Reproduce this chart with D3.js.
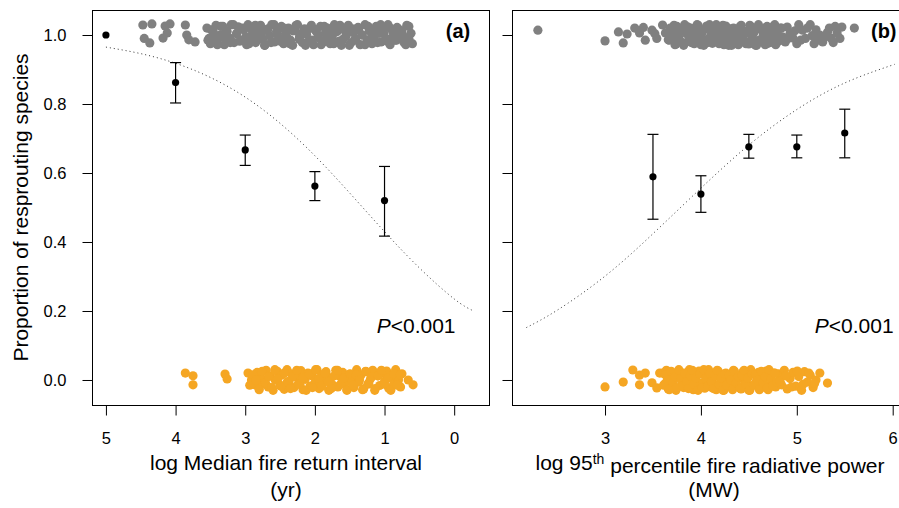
<!DOCTYPE html>
<html>
<head>
<meta charset="utf-8">
<script src="https://cdn.jsdelivr.net/npm/d3@7"></script>
<style>
  body { margin: 0; background: #fff; }
  text { font-family: "Liberation Sans", Arial, Helvetica, sans-serif; fill: #000; }
</style>
</head>
<body>
<script>
// ---- data ----
// panel (a): log median fire return interval
var meanA_x = [5, 4, 3, 2, 1];
var meanA   = [1.0, 0.862, 0.667, 0.562, 0.52];
var lowA    = [null, 0.803, 0.622, 0.52, 0.417];
var highA   = [null, 0.92, 0.71, 0.604, 0.619];

var curveA_x = [5, 4.5, 4, 3.5, 3, 2.5, 2, 1.5, 1, 0.5, 0, -0.28];
var curveA_y = [0.965, 0.946, 0.918, 0.877, 0.82, 0.744, 0.65, 0.542, 0.43, 0.325, 0.235, 0.2];

// resprouters (y ~ 1) and non-resprouters (y ~ 0), jittered
var greyA = [
  [4.47,1.029],[4.34,1.032],[4.45,0.99],[4.37,0.977],[4.15,1.026],[4.08,1.032],[4.12,1.006],[4.18,0.991],
  [3.86,1.029],[3.84,1.0],[3.81,0.986],[3.72,0.98],
  [3.55,1.02],[3.52,0.99],[3.50,0.975],[3.46,1.01],[3.42,1.028],[3.40,0.985],[3.36,1.0],[3.32,1.025],
  [3.30,0.972],[3.27,1.012],[3.22,0.99],[3.20,1.03],[3.16,0.978],[3.12,1.005],[3.10,1.024],[3.06,0.985],
  [3.02,1.015],[2.98,0.972],[2.96,1.03],[2.92,0.995],[2.88,1.018],[2.85,0.978],[2.82,1.005],[2.78,1.028],
  [2.75,0.988],[2.72,0.97],[2.68,1.015],[2.65,0.998],[2.62,1.03],[2.58,0.98],[2.55,1.01],[2.52,0.992],
  [2.48,1.025],[2.45,0.975],[2.42,1.005],[2.38,1.02],[2.35,0.985],[2.32,0.97],[2.28,1.012],[2.25,1.03],
  [2.22,0.995],[2.18,0.978],[2.15,1.018],[2.12,1.002],[2.08,0.985],[2.05,1.028],[2.02,0.972],[1.98,1.01],
  [1.95,0.992],[1.92,1.025],[1.88,0.98],[1.85,1.005],[1.82,1.02],[1.78,0.975],[1.75,0.995],[1.72,1.03],
  [1.68,1.01],[1.65,0.982],[1.62,0.97],[1.58,1.015],[1.55,0.998],[1.52,1.028],[1.48,0.978],[1.45,1.008],
  [1.42,0.99],[1.38,1.022],[1.35,0.972],[1.32,1.0],[1.28,1.03],[1.25,0.985],[1.22,1.012],[1.18,0.975],
  [1.15,0.995],[1.12,1.025],[1.08,1.005],[1.05,0.98],[1.02,1.018],[0.98,0.99],[0.95,1.03],[0.92,0.972],
  [0.88,1.008],[0.85,0.985],[0.82,1.022],[0.78,0.995],[0.75,1.012],[0.72,0.978],[0.68,1.028],[0.65,0.99],
  [0.62,1.005],[0.60,0.975],
  [3.535,0.985],[3.49,1.015],[3.445,1.0],[3.40,0.972],[3.35,1.025],[3.305,0.992],[3.26,1.01],[3.215,0.978],
  [3.17,1.03],[3.125,1.004],[3.08,0.982],[3.035,1.02],[2.99,0.995],[2.945,0.975],[2.90,1.012],[2.855,1.028],
  [2.81,0.988],[2.765,1.006],[2.72,0.97],[2.675,1.018],
  [2.63,0.978],[2.585,1.03],[2.54,1.004],[2.495,0.982],[2.45,1.02],[2.405,0.995],[2.36,0.975],[2.315,1.012],
  [2.27,1.028],[2.225,0.988],[2.18,1.006],[2.135,0.97],[2.09,1.018],[2.045,0.985],[2.00,1.015],[1.955,1.0],
  [1.91,0.972],[1.865,1.025],[1.82,0.992],[1.775,1.01],
  [1.73,0.975],[1.685,1.012],[1.64,1.028],[1.595,0.988],[1.55,1.006],[1.505,0.97],[1.46,1.018],[1.415,0.985],
  [1.37,1.015],[1.325,1.0],[1.28,0.972],[1.235,1.025],[1.19,0.992],[1.145,1.01],[1.10,0.978],[1.055,1.03],
  [1.01,1.004],[0.965,0.982],[0.92,1.02],[0.875,0.995],
  [0.83,0.985],[0.785,1.015],[0.74,1.0],[0.695,0.972],[0.65,1.025]
];
var orangeA = [
  [3.86,0.02],[3.75,0.012],[3.75,-0.014],[3.29,0.017],[3.26,0.003],
  [2.96,0.02],[2.91,0.0],[2.86,-0.014],
  [2.83,0.022],[2.80,-0.025],[2.77,0.005],[2.74,-0.01],[2.70,0.028],[2.67,-0.02],[2.64,0.012],[2.60,-0.03],
  [2.57,0.0],[2.54,0.025],[2.50,-0.015],[2.47,0.015],[2.44,-0.027],[2.40,0.03],[2.37,-0.005],[2.34,0.018],
  [2.30,-0.022],[2.27,0.008],[2.24,-0.012],[2.20,0.027],[2.17,-0.028],[2.14,0.002],[2.10,0.02],[2.07,-0.018],
  [2.04,0.012],[2.00,-0.008],[1.97,0.03],[1.94,-0.025],[1.90,0.015],[1.87,-0.002],[1.84,0.024],[1.80,-0.03],
  [1.77,0.006],[1.74,-0.015],[1.70,0.028],[1.67,-0.02],[1.64,0.01],[1.60,0.022],[1.57,-0.01],[1.54,-0.028],
  [1.50,0.016],[1.47,0.0],[1.44,-0.022],[1.40,0.03],[1.37,-0.006],[1.34,0.014],[1.30,-0.026],[1.27,0.024],
  [1.24,-0.012],[1.20,0.004],[1.17,0.028],[1.14,-0.03],[1.10,0.012],[1.07,-0.016],[1.04,0.02],[1.00,-0.004],
  [0.97,0.026],[0.94,-0.024],[0.90,0.008],[0.87,-0.012],[0.84,0.03],[0.80,0.0],[0.77,-0.02],[0.75,0.018],
  [0.66,0.0],[0.59,-0.014],
  [2.935,-0.015],[2.89,0.015],[2.845,0.0],[2.80,-0.028],[2.755,0.025],[2.71,-0.008],[2.665,0.01],[2.62,-0.022],
  [2.575,0.03],[2.53,0.004],[2.485,-0.018],[2.44,0.02],[2.395,-0.005],[2.35,-0.025],[2.305,0.012],[2.26,0.028],
  [2.215,-0.012],[2.17,0.006],[2.125,-0.03],[2.08,0.018],
  [2.035,-0.022],[1.99,0.03],[1.945,0.004],[1.90,-0.018],[1.855,0.02],[1.81,-0.005],[1.765,-0.025],[1.72,0.012],
  [1.675,0.028],[1.63,-0.012],[1.585,0.006],[1.54,-0.03],[1.495,0.018],[1.45,-0.015],[1.405,0.015],[1.36,0.0],
  [1.315,-0.028],[1.27,0.025],[1.225,-0.008],[1.18,0.01],
  [1.135,-0.025],[1.09,0.012],[1.045,0.028],[1.00,-0.012],[0.955,0.006],[0.91,-0.03],[0.865,0.018],[0.82,-0.015],
  [0.775,0.015]
];

// panel (b): log 95th percentile fire radiative power
var meanB_x = [3.5, 4, 4.5, 5, 5.5];
var meanB   = [0.589, 0.539, 0.676, 0.676, 0.716];
var lowB    = [0.466, 0.486, 0.643, 0.644, 0.644];
var highB   = [0.712, 0.592, 0.712, 0.71, 0.785];

var curveB_x = [2.18, 2.5, 3, 3.5, 4, 4.5, 5, 5.5, 6.02];
var curveB_y = [0.152, 0.202, 0.301, 0.424, 0.556, 0.681, 0.784, 0.861, 0.915];

var greyB = [
  [2.30,1.014],[3.00,0.983],[3.14,1.009],[3.19,0.977],[3.23,1.003],[3.31,1.02],[3.36,1.006],[3.40,1.022],
  [3.42,0.985],[3.49,1.014],[3.52,1.004],[3.54,0.99],[3.60,1.029],[3.63,1.006],[3.66,0.986],
  [3.68,1.02],[3.70,0.988],[3.72,1.028],[3.74,0.974],[3.76,1.004],[3.78,0.982],[3.80,1.014],[3.82,0.97],
  [3.84,1.01],[3.86,1.024],[3.88,0.996],[3.90,0.978],[3.92,1.018],[3.94,0.992],[3.96,1.03],[3.98,1.0],
  [4.00,0.972],[4.02,1.012],[4.04,0.984],[4.06,1.026],
  [4.08,0.99],[4.10,1.022],[4.12,0.976],[4.14,1.008],[4.16,1.03],[4.18,0.98],[4.20,1.0],[4.22,1.016],
  [4.24,0.972],[4.26,1.026],[4.28,0.986],[4.30,1.006],[4.32,0.97],[4.34,1.02],[4.36,0.994],[4.38,1.012],
  [4.40,0.978],[4.42,1.028],[4.44,1.002],[4.46,0.982],
  [4.48,1.006],[4.50,0.974],[4.52,1.024],[4.54,0.99],[4.56,1.012],[4.58,0.97],[4.60,1.03],[4.62,0.984],
  [4.64,1.016],[4.66,0.998],[4.68,1.022],[4.70,0.976],[4.72,1.008],[4.74,0.988],[4.76,1.026],[4.78,0.972],
  [4.80,1.014],[4.82,0.994],[4.84,1.02],
  [4.88,0.98],[4.90,1.023],[4.93,1.005],[4.96,0.991],[5.00,0.975],[5.02,1.03],[5.06,1.014],[5.09,0.99],
  [5.14,1.03],[5.18,0.975],[5.20,1.015],[5.24,1.0],[5.27,0.98],[5.30,0.995],[5.34,1.02],[5.38,0.978],
  [5.42,1.006],[5.45,0.99],[5.47,1.023],[5.60,1.02],
  [3.67,0.985],[3.69,1.015],[3.71,1.0],[3.73,0.972],[3.75,1.025],[3.77,0.992],[3.79,1.01],[3.81,0.978],
  [3.83,1.03],[3.85,1.004],[3.87,0.982],[3.89,1.02],[3.91,0.995],[3.93,0.975],[3.95,1.012],[3.97,1.028],
  [3.99,0.988],[4.01,1.006],[4.03,0.97],[4.05,1.018],
  [4.07,0.978],[4.09,1.03],[4.11,1.004],[4.13,0.982],[4.15,1.02],[4.17,0.995],[4.19,0.975],[4.21,1.012],
  [4.23,1.028],[4.25,0.988],[4.27,1.006],[4.29,0.97],[4.31,1.018],[4.33,0.985],[4.35,1.015],[4.37,1.0],
  [4.39,0.972],[4.41,1.025],[4.43,0.992],[4.45,1.01],
  [4.47,0.975],[4.49,1.012],[4.51,1.028],[4.53,0.988],[4.55,1.006],[4.57,0.97],[4.59,1.018],[4.61,0.985],
  [4.63,1.015],[4.65,1.0],[4.67,0.972],[4.69,1.025],[4.71,0.992],[4.73,1.01],[4.75,0.978],[4.77,1.03],
  [4.79,1.004],[4.81,0.982],[4.83,1.02],[4.85,0.995],
  [4.91,0.99],[4.98,1.012],[5.04,0.985],[5.11,1.02],[5.16,0.998],[5.22,0.985],[5.32,1.008],[5.36,0.99],
  [5.40,1.025]
];
var orangeB = [
  [3.00,-0.02],[3.19,-0.006],[3.29,0.029],[3.36,0.014],[3.36,-0.014],[3.42,0.02],[3.49,-0.008],[3.54,-0.023],[3.57,0.02],
  [3.60,0.02],[3.62,-0.012],[3.64,0.028],[3.66,-0.026],[3.68,0.004],[3.70,-0.018],[3.72,0.014],[3.74,-0.03],
  [3.76,0.01],[3.78,0.024],[3.80,-0.004],[3.82,-0.022],[3.84,0.018],[3.86,-0.008],[3.88,0.03],[3.90,0.0],
  [3.92,-0.028],[3.94,0.012],[3.96,-0.016],[3.98,0.026],
  [4.00,-0.01],[4.02,0.022],[4.04,-0.024],[4.06,0.008],[4.08,0.03],[4.10,-0.02],[4.12,0.0],[4.14,0.016],
  [4.16,-0.028],[4.18,0.026],[4.20,-0.014],[4.22,0.006],[4.24,-0.03],[4.26,0.02],[4.28,-0.006],[4.30,0.012],
  [4.32,-0.022],[4.34,0.028],[4.36,0.002],[4.38,-0.018],
  [4.40,0.006],[4.42,-0.026],[4.44,0.024],[4.46,-0.01],[4.48,0.012],[4.50,-0.03],[4.52,0.03],[4.54,-0.016],
  [4.56,0.016],[4.58,-0.002],[4.60,0.022],[4.62,-0.024],[4.64,0.008],[4.66,-0.012],[4.68,0.026],[4.70,-0.028],
  [4.72,0.014],[4.74,-0.006],[4.76,0.02],[4.78,-0.02],
  [4.81,0.018],[4.84,-0.014],[4.87,0.028],[4.90,-0.026],[4.93,0.004],[4.96,0.022],[4.99,-0.018],[5.02,0.01],
  [5.05,-0.03],[5.08,0.024],[5.11,-0.006],[5.14,0.014],[5.17,-0.022],[5.20,0.0],[5.24,0.02],
  [5.32,-0.009],
  [3.61,-0.015],[3.63,0.015],[3.65,0.0],[3.67,-0.028],[3.69,0.025],[3.71,-0.008],[3.73,0.01],[3.75,-0.022],
  [3.77,0.03],[3.79,0.004],[3.81,-0.018],[3.83,0.02],[3.85,-0.005],[3.87,-0.025],[3.89,0.012],[3.91,0.028],
  [3.93,-0.012],[3.95,0.006],[3.97,-0.03],[3.99,0.018],
  [4.01,-0.022],[4.03,0.03],[4.05,0.004],[4.07,-0.018],[4.09,0.02],[4.11,-0.005],[4.13,-0.025],[4.15,0.012],
  [4.17,0.028],[4.19,-0.012],[4.21,0.006],[4.23,-0.03],[4.25,0.018],[4.27,-0.015],[4.29,0.015],[4.31,0.0],
  [4.33,-0.028],[4.35,0.025],[4.37,-0.008],[4.39,0.01],
  [4.41,-0.025],[4.43,0.012],[4.45,0.028],[4.47,-0.012],[4.49,0.006],[4.51,-0.03],[4.53,0.018],[4.55,-0.015],
  [4.57,0.015],[4.59,0.0],[4.61,-0.028],[4.63,0.025],[4.65,-0.008],[4.67,0.01],[4.69,-0.022],[4.71,0.03],
  [4.73,0.004],[4.75,-0.018],[4.77,0.02],[4.79,-0.005],
  [4.825,-0.004],[4.885,0.012],[4.945,-0.02],[5.005,0.026],[5.065,-0.012],[5.125,0.02],[5.185,-0.01]
];

var yTicks = [0, 0.2, 0.4, 0.6, 0.8, 1.0];
var xTicksA = [5, 4, 3, 2, 1, 0];
var xTicksB = [3, 4, 5, 6];

// ---- layout ----
var width = 899, height = 508;
var plotTop = 10, plotBottom = 405;
var grey = "#808080", orange = "#f5a623";

var svg = d3.select("body").append("svg")
    .attr("width", width)
    .attr("height", height);

var y = d3.scaleLinear().domain([-0.0725, 1.0725]).range([plotBottom, plotTop]);

var xA = d3.scaleLinear().domain([5.2, -0.5]).range([92, 489]);
var xB = d3.scaleLinear().domain([2.03, 6.17]).range([512, 909]);

function drawPanel(x, ticks, o) {
  var g = svg.append("g");
  var x0 = x.range()[0], x1 = x.range()[1];

  // jittered raw observations
  g.selectAll("circle.grey")
      .data(o.grey)
      .enter().append("circle")
      .attr("class", "grey")
      .attr("cx", function(d) { return x(d[0]); })
      .attr("cy", function(d) { return y(d[1]); })
      .attr("r", 4.6)
      .attr("fill", grey);

  g.selectAll("circle.orange")
      .data(o.orange)
      .enter().append("circle")
      .attr("class", "orange")
      .attr("cx", function(d) { return x(d[0]); })
      .attr("cy", function(d) { return y(d[1]); })
      .attr("r", 4.6)
      .attr("fill", orange);

  // fitted curve
  var line = d3.line()
      .x(function(d) { return x(d[0]); })
      .y(function(d) { return y(d[1]); })
      .curve(d3.curveNatural);
  g.append("path")
      .datum(d3.zip(o.cx, o.cy))
      .attr("d", line)
      .attr("fill", "none")
      .attr("stroke", "#333")
      .attr("stroke-width", 1)
      .attr("stroke-dasharray", "1,3");

  // error bars + means
  var bars = d3.range(o.mx.length).filter(function(i) { return o.lo[i] !== null; });
  bars.forEach(function(i) {
    var cx = x(o.mx[i]);
    g.append("line").attr("x1", cx).attr("x2", cx)
        .attr("y1", y(o.lo[i])).attr("y2", y(o.hi[i]))
        .attr("stroke", "#000").attr("stroke-width", 1.2);
    [o.lo[i], o.hi[i]].forEach(function(v) {
      g.append("line").attr("x1", cx - 5.5).attr("x2", cx + 5.5)
          .attr("y1", y(v)).attr("y2", y(v))
          .attr("stroke", "#000").attr("stroke-width", 1.2);
    });
  });
  g.selectAll("circle.mean")
      .data(d3.zip(o.mx, o.m))
      .enter().append("circle")
      .attr("class", "mean")
      .attr("cx", function(d) { return x(d[0]); })
      .attr("cy", function(d) { return y(d[1]); })
      .attr("r", 3.6)
      .attr("fill", "#000");

  // box
  g.append("rect")
      .attr("x", x0 + 0.5).attr("y", plotTop + 0.5)
      .attr("width", x1 - x0).attr("height", plotBottom - plotTop)
      .attr("fill", "none").attr("stroke", "#000").attr("stroke-width", 1);

  // axes
  var ax = g.append("g")
      .attr("transform", "translate(0," + (plotBottom + 0.5) + ")")
      .call(d3.axisBottom(x).tickValues(ticks).tickSize(10).tickPadding(17)
            .tickFormat(d3.format("d")));
  var ay = g.append("g")
      .attr("transform", "translate(" + (x0 + 0.5) + ",0)")
      .call(d3.axisLeft(y).tickValues(yTicks).tickSize(10).tickPadding(16)
            .tickFormat(o.yLabels ? d3.format(".1f") : ""));
  [ax, ay].forEach(function(a) {
    a.select(".domain").remove();
    a.selectAll("text").style("font-size", "16.5px").attr("fill", "#000");
    a.selectAll("line").attr("stroke", "#000");
  });

  // annotations
  g.append("text")
      .attr("x", x(o.tagX)).attr("y", y(1.006))
      .attr("text-anchor", "end").attr("dominant-baseline", "middle")
      .style("font-size", "20px").style("font-weight", "bold")
      .text(o.tag);
  var p = g.append("text")
      .attr("x", x(o.pX)).attr("y", y(0.155))
      .attr("text-anchor", "end").attr("dominant-baseline", "middle")
      .style("font-size", "21px");
  p.append("tspan").style("font-style", "italic").text("P");
  p.append("tspan").text("<0.001");

  return g;
}

drawPanel(xA, xTicksA, {
  grey: greyA, orange: orangeA, cx: curveA_x, cy: curveA_y,
  mx: meanA_x, m: meanA, lo: lowA, hi: highA,
  yLabels: true, tag: "(a)", tagX: -0.23, pX: -0.02
});
drawPanel(xB, xTicksB, {
  grey: greyB, orange: orangeB, cx: curveB_x, cy: curveB_y,
  mx: meanB_x, m: meanB, lo: lowB, hi: highB,
  yLabels: false, tag: "(b)", tagX: 6.04, pX: 6.01
});

// axis titles
svg.append("text")
    .attr("transform", "translate(22," + y(0.5) + ") rotate(-90)")
    .attr("text-anchor", "middle").attr("dominant-baseline", "middle")
    .style("font-size", "21px")
    .text("Proportion of resprouting species");

svg.append("text")
    .attr("x", 286).attr("y", 470)
    .attr("text-anchor", "middle")
    .style("font-size", "21px")
    .text("log Median fire return interval");
svg.append("text")
    .attr("x", 286).attr("y", 497)
    .attr("text-anchor", "middle")
    .style("font-size", "21px")
    .text("(yr)");

var tB = svg.append("text")
    .attr("x", 710).attr("y", 470)
    .attr("text-anchor", "middle")
    .style("font-size", "21px");
tB.append("tspan").text("log 95");
tB.append("tspan").attr("dy", "-0.45em").style("font-size", "14px").text("th");
tB.append("tspan").attr("dy", "0.45em").text(" percentile fire radiative power");
svg.append("text")
    .attr("x", 714).attr("y", 497)
    .attr("text-anchor", "middle")
    .style("font-size", "21px")
    .text("(MW)");
</script>
</body>
</html>
